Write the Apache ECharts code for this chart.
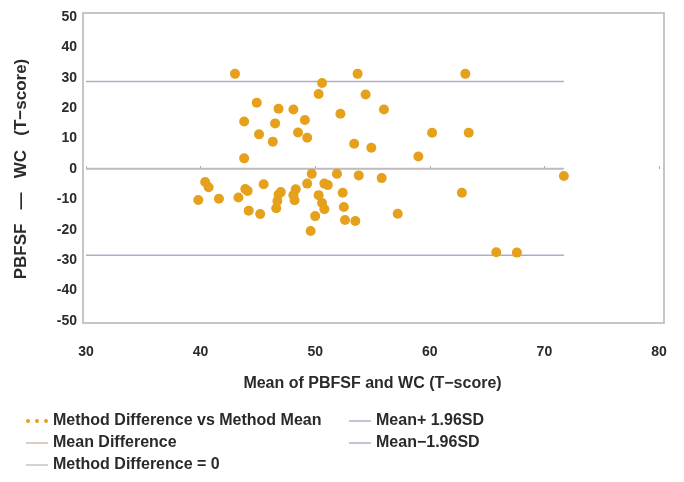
<!DOCTYPE html>
<html>
<head>
<meta charset="utf-8">
<script src="https://cdn.jsdelivr.net/npm/echarts@6/dist/echarts.min.js"></script>
<style>html,body{margin:0;padding:0;background:#fff;}#c{width:684px;height:482px;}</style>
</head>
<body>
<div id="c"></div>
<script>
// Method mean (x) and method difference (y) pairs
const meanValues = [43.0,53.7,63.1,50.6,50.3,54.4,44.9,46.8,48.1,56.0,52.2,49.1,43.8,46.5,45.1,48.5,60.2,63.4,49.3,46.3,53.4,54.9,59.0,43.8,
  49.7,51.9,53.8,55.8,71.7,40.4,40.7,39.8,41.6,43.3,43.9,44.1,45.5,44.2,45.2,46.8,47.0,46.7,46.6,48.3,48.1,48.2,49.3,50.8,51.1,52.4,50.3,50.6,50.8,50.0,52.5,52.6,53.5,57.2,49.6,62.8,65.8,67.6];
const diffValues = [31.3,31.3,31.3,28.3,24.7,24.5,21.8,19.8,19.6,19.6,18.2,16.1,15.6,15.0,11.4,12.0,11.9,11.9,10.3,9.0,8.3,7.0,4.1,3.5,
  -1.6,-1.6,-2.1,-3.0,-2.3,-4.3,-6.0,-10.2,-9.8,-9.4,-6.6,-7.2,-5.0,-13.7,-14.8,-8.4,-7.6,-10.5,-12.9,-6.7,-8.6,-10.3,-4.8,-4.8,-5.3,-7.8,-8.6,-11.2,-13.2,-15.5,-12.5,-16.8,-17.1,-14.7,-20.4,-7.8,-27.4,-27.5];
// Reference lines
const lineStartX = 30;
const lineEndX = 71.7;
const meanDiff = 0.2;
const upperLimit = 28.8;
const lowerLimit = -28.4;
const zeroLine = 0;
// Axis settings
const xTicks = [30,40,50,60,70,80];
const yTicks = [-50,-40,-30,-20,-10,0,10,20,30,40,50];

const names = {
  pts: 'Method Difference vs Method Mean',
  mean: 'Mean Difference',
  zero: 'Method Difference = 0',
  up: 'Mean+ 1.96SD',
  low: 'Mean\u22121.96SD'
};

const pts = meanValues.map((x, i) => [x, diffValues[i]]);
const hline = v => [[lineStartX, v], [lineEndX, v]];
const FONT = '"Liberation Sans", Arial, sans-serif';
const dotsIcon = 'path://M0,2a2,2 0 1,0 4,0a2,2 0 1,0 -4,0M9,2a2,2 0 1,0 4,0a2,2 0 1,0 -4,0M18,2a2,2 0 1,0 4,0a2,2 0 1,0 -4,0';
const lineIcon = 'path://M0,0H22V1.4H0Z';

const chart = echarts.init(document.getElementById('c'), null, {renderer: 'canvas'});
const labelStyle = {fontFamily: FONT, fontSize: 14, fontWeight: 'bold', color: '#2a2a2a'};
const legendText = {fontFamily: FONT, fontSize: 16, fontWeight: 'bold', color: '#2a2a2a'};

chart.setOption({
  animation: false,
  backgroundColor: '#fff',
  grid: [
    {left: 83, right: 20, top: 13, bottom: 159, show: true, borderColor: '#b4b4b4', borderWidth: 1.5, backgroundColor: 'transparent'},
    {left: 86, right: 25, top: 17, bottom: 161}
  ],
  xAxis: [
    {gridIndex: 0, show: false, min: 0, max: 1},
    {gridIndex: 1, type: 'value', min: xTicks[0], max: xTicks[xTicks.length-1], interval: 10,
     name: 'Mean of PBFSF and WC (T\u2212score)', nameLocation: 'middle', nameGap: 55,
     nameTextStyle: {fontFamily: FONT, fontSize: 16, fontWeight: 'bold', color: '#2a2a2a'},
     axisLine: {show: false}, axisTick: {show: true, inside: true, length: 3, lineStyle: {color: '#aaa'}},
     axisLabel: Object.assign({margin: 24}, labelStyle), splitLine: {show: false}}
  ],
  yAxis: [
    {gridIndex: 0, show: false, min: 0, max: 1},
    {gridIndex: 1, type: 'value', min: yTicks[0], max: yTicks[yTicks.length-1], interval: 10,
     name: 'PBFSF   \u2014   WC   (T\u2212score)', nameLocation: 'middle', nameGap: 56, nameRotate: 90,
     nameTextStyle: {fontFamily: FONT, fontSize: 17, fontWeight: 'bold', color: '#2a2a2a'},
     axisLine: {show: false}, axisTick: {show: false},
     axisLabel: Object.assign({margin: 9}, labelStyle), splitLine: {show: false}}
  ],
  legend: [
    {left: 26, top: 413, padding: 0, orient: 'vertical', itemWidth: 22, itemHeight: 4, itemGap: 6,
     textStyle: legendText, selectedMode: false, symbolKeepAspect: true,
     data: [{name: names.pts, icon: dotsIcon}, {name: names.mean, icon: lineIcon}, {name: names.zero, icon: lineIcon}]},
    {left: 349, top: 413, padding: 0, orient: 'vertical', itemWidth: 22, itemHeight: 4, itemGap: 6,
     textStyle: legendText, selectedMode: false, symbolKeepAspect: true,
     data: [{name: names.up, icon: lineIcon}, {name: names.low, icon: lineIcon}]}
  ],
  series: [
    {name: names.mean, type: 'line', xAxisIndex: 1, yAxisIndex: 1, data: hline(meanDiff), symbol: 'none',
     lineStyle: {color: '#c9b9a6', width: 1.5}, itemStyle: {color: '#c9b9a6'}, z: 2},
    {name: names.zero, type: 'line', xAxisIndex: 1, yAxisIndex: 1, data: hline(zeroLine), symbol: 'none',
     lineStyle: {color: '#bdbdc4', width: 1.5}, itemStyle: {color: '#bdbdc4'}, z: 2},
    {name: names.up, type: 'line', xAxisIndex: 1, yAxisIndex: 1, data: hline(upperLimit), symbol: 'none',
     lineStyle: {color: '#aeacc6', width: 1.5}, itemStyle: {color: '#aeacc6'}, z: 2},
    {name: names.low, type: 'line', xAxisIndex: 1, yAxisIndex: 1, data: hline(lowerLimit), symbol: 'none',
     lineStyle: {color: '#aeacc6', width: 1.5}, itemStyle: {color: '#aeacc6'}, z: 2},
    {name: names.pts, type: 'scatter', xAxisIndex: 1, yAxisIndex: 1, data: pts, symbol: 'circle', symbolSize: 10,
     itemStyle: {color: '#e5a11c', opacity: 1}, z: 3}
  ]
});
</script>
</body>
</html>
